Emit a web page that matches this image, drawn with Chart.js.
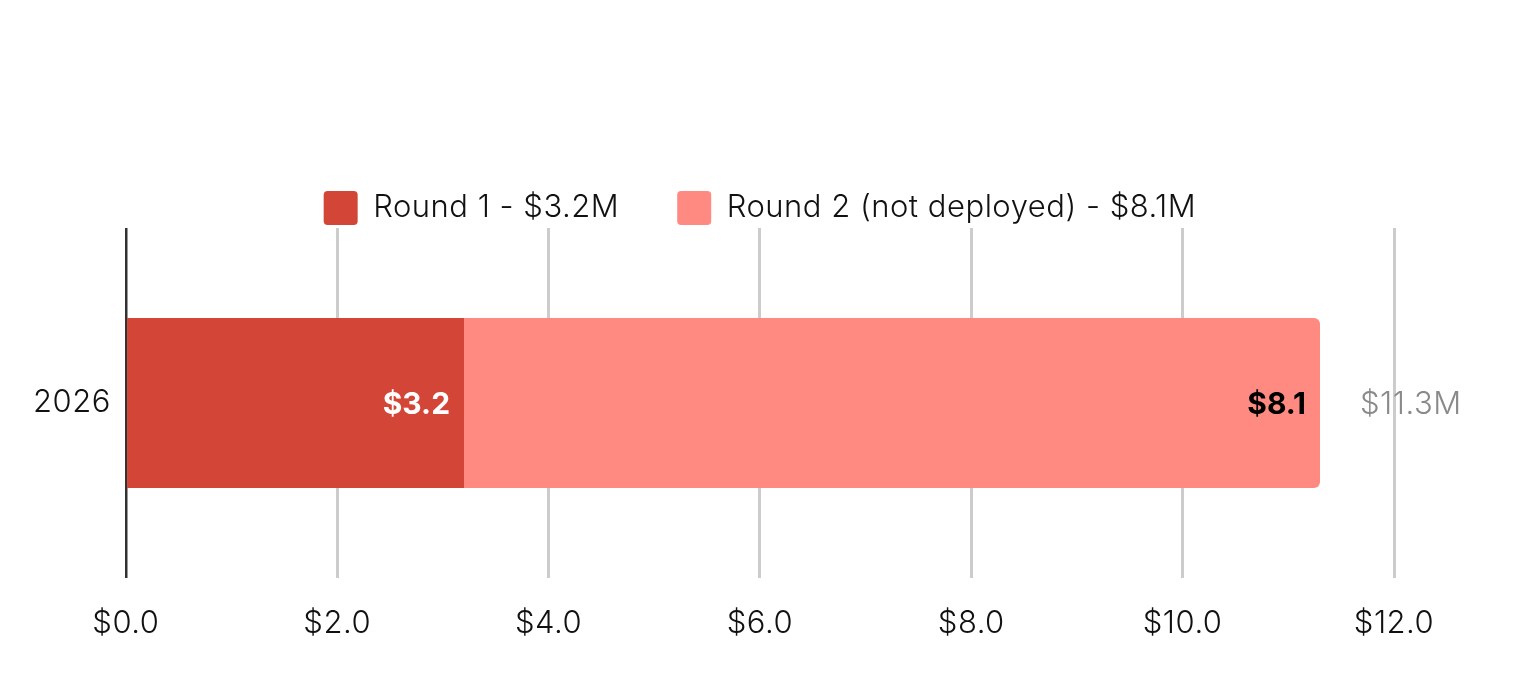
<!DOCTYPE html>
<html>
<head>
<meta charset="utf-8">
<script src="https://cdn.jsdelivr.net/npm/chart.js@4.4.1/dist/chart.umd.min.js"></script>
<style>
  html, body { margin: 0; padding: 0; background: #fff; }
  #wrap { width: 1534px; height: 695px; }
</style>
</head>
<body>
<div id="wrap"><canvas id="chartContainer"></canvas></div>
<script>
var years = ["2026"];
var round1 = [3.2];
var round2 = [8.1];
var seriesNames = ["Round 1 - $3.2M", "Round 2 (not deployed) - $8.1M"];
var seriesColors = ["#D34537", "#FF8A81"];
var labelColors = ["#ffffff", "#000000"];
var tickValues = [0, 2, 4, 6, 8, 10, 12];

var fontFamily = "Inter, 'Noto Sans', sans-serif";
var spacing = "0.5px";

// slightly open the type, and put the legend over the plot area instead of the whole canvas
var layoutTweaks = {
    id: "layoutTweaks",
    beforeUpdate: function(chart) { chart.ctx.letterSpacing = spacing; },
    beforeLayout: function(chart) { chart.ctx.letterSpacing = spacing; },
    afterLayout: function(chart) {
        var lg = chart.legend;
        lg.left = chart.chartArea.left;
        lg.right = chart.chartArea.right;
        lg.top += 7;
        lg.bottom += 7;
    },
    beforeDraw: function(chart) { chart.ctx.letterSpacing = spacing; }
};

// draws the value inside each bar and the total after the stack
var barLabels = {
    id: "barLabels",
    afterDatasetsDraw: function(chart) {
        var ctx = chart.ctx;
        ctx.save();
        ctx.textBaseline = "middle";
        ctx.letterSpacing = "0px";
        chart.data.datasets.forEach(function(ds, di) {
            var meta = chart.getDatasetMeta(di);
            meta.data.forEach(function(bar, i) {
                ctx.font = "700 30px " + fontFamily;
                ctx.fillStyle = labelColors[di];
                ctx.textAlign = "right";
                ctx.fillText("$" + ds.data[i].toFixed(1), bar.x - 14, bar.y + 2);
            });
        });
        ctx.letterSpacing = spacing;
        var last = chart.getDatasetMeta(chart.data.datasets.length - 1);
        last.data.forEach(function(bar, i) {
            var total = round1[i] + round2[i];
            ctx.font = "300 31px " + fontFamily;
            ctx.fillStyle = "#8a8a8a";
            ctx.textAlign = "left";
            ctx.fillText("$" + total.toFixed(1) + "M", bar.x + 40, bar.y + 2);
        });
        ctx.restore();
    }
};

new Chart("chartContainer", {
    type: "bar",
    data: {
        labels: years,
        datasets: [{
            label: seriesNames[0],
            data: round1,
            backgroundColor: seriesColors[0],
            borderRadius: 6,
            barPercentage: 0.486,
            categoryPercentage: 1
        }, {
            label: seriesNames[1],
            data: round2,
            backgroundColor: seriesColors[1],
            borderRadius: 6,
            barPercentage: 0.486,
            categoryPercentage: 1
        }]
    },
    options: {
        indexAxis: "y",
        responsive: true,
        maintainAspectRatio: false,
        animation: false,
        layout: { padding: { top: 126, right: 140, left: 18, bottom: 26 } },
        plugins: {
            tooltip: { enabled: false },
            legend: {
                display: true,
                labels: {
                    boxWidth: 34,
                    boxHeight: 34,
                    useBorderRadius: true,
                    borderRadius: 4,
                    padding: 58,
                    color: "#111",
                    font: { family: fontFamily, size: 31, weight: "300" }
                }
            }
        },
        scales: {
            x: {
                stacked: true,
                min: 0,
                max: 12,
                afterBuildTicks: function(axis) {
                    axis.ticks = tickValues.map(function(v) { return { value: v }; });
                },
                border: { display: false },
                grid: {
                    drawTicks: false,
                    lineWidth: function(c) { return c.tick && c.tick.value === 0 ? 2.5 : 3; },
                    color: function(c) { return c.tick && c.tick.value === 0 ? "#333333" : "#cccccc"; }
                },
                ticks: {
                    padding: 27,
                    color: "#111",
                    font: { family: fontFamily, size: 31, weight: "300" },
                    callback: function(v) { return "$" + Number(v).toFixed(1); }
                }
            },
            y: {
                stacked: true,
                border: { display: false },
                grid: { display: false, drawTicks: false },
                ticks: {
                    padding: 15,
                    color: "#111",
                    font: { family: fontFamily, size: 31, weight: "300" }
                }
            }
        }
    },
    plugins: [layoutTweaks, barLabels]
});
</script>
</body>
</html>
